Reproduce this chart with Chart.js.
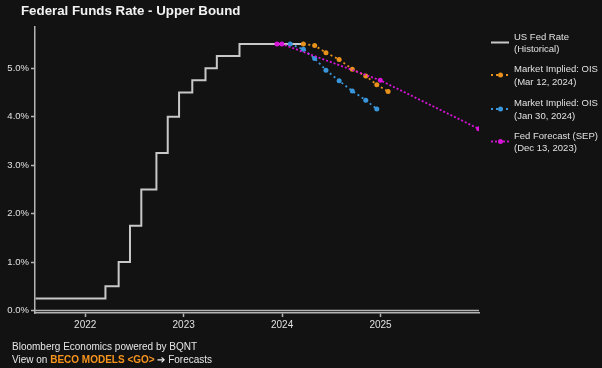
<!DOCTYPE html>
<html lang="en">
<head>
    <meta charset="UTF-8">
    <title>Federal Funds Rate - Upper Bound</title>
    <script src="https://cdn.jsdelivr.net/npm/chart.js"></script>
    <style>
        html, body { margin: 0; padding: 0; background: #121212; overflow: hidden; }
        #wrap { width: 602px; height: 368px; position: relative; }
    </style>
</head>
<body>
    <div id="wrap"><canvas id="grafico" width="602" height="368"></canvas></div>

    <script>
        // Historical upper bound (step changes at FOMC dates)
        const histDates = ['2021-07-01', '2022-03-17', '2022-05-05', '2022-06-16', '2022-07-28', '2022-09-22',
            '2022-11-03', '2022-12-15', '2023-02-02', '2023-03-23', '2023-05-04', '2023-07-27', '2024-03-12'];
        const histRates = [0.25, 0.50, 1.00, 1.75, 2.50, 3.25, 4.00, 4.50, 4.75, 5.00, 5.25, 5.50, 5.50];

        // Market implied OIS, Mar 12 2024
        const oisMarDates = ['2024-03-20', '2024-05-01', '2024-06-12', '2024-07-31', '2024-09-18', '2024-11-07', '2024-12-18', '2025-01-29'];
        const oisMarRates = [5.50, 5.47, 5.32, 5.18, 4.98, 4.84, 4.66, 4.52];

        // Market implied OIS, Jan 30 2024
        const oisJanDates = ['2024-01-31', '2024-03-20', '2024-05-01', '2024-06-12', '2024-07-31', '2024-09-18', '2024-11-07', '2024-12-18'];
        const oisJanRates = [5.50, 5.39, 5.20, 4.96, 4.74, 4.53, 4.34, 4.16];

        // Fed SEP forecast, Dec 13 2023
        const sepDates = ['2023-12-13', '2023-12-31', '2024-12-31', '2025-12-31'];
        const sepRates = [5.50, 5.50, 4.75, 3.75];

        const yearTicks = [2022, 2023, 2024, 2025];
        const rateTicks = [0, 1, 2, 3, 4, 5];

        const legendLabels = [
            ['US Fed Rate', '(Historical)'],
            ['Market Implied: OIS', '(Mar 12, 2024)'],
            ['Market Implied: OIS', '(Jan 30, 2024)'],
            ['Fed Forecast (SEP)', '(Dec 13, 2023)']
        ];

        const cinza = '#c8c8c8';
        const laranja = '#e8921c';
        const azul = '#3a96da';
        const magenta = '#d914d9';

        // date string -> decimal year
        function anoDecimal(s) {
            const d = new Date(s + 'T00:00:00Z');
            const y = d.getUTCFullYear();
            const ini = Date.UTC(y, 0, 1), fim = Date.UTC(y + 1, 0, 1);
            return y + (d - ini) / (fim - ini);
        }
        function pontos(datas, valores) {
            return datas.map((d, i) => ({ x: anoDecimal(d), y: valores[i] }));
        }

        // background, title, footer and legend drawn on the canvas
        const extras = {
            id: 'extras',
            beforeDraw(chart) {
                const c = chart.ctx;
                c.save();
                c.fillStyle = '#121212';
                c.fillRect(0, 0, chart.width, chart.height);
                c.restore();
            },
            afterDraw(chart) {
                const c = chart.ctx;
                c.save();
                c.textBaseline = 'middle';
                c.fillStyle = '#f2f2f2';
                c.font = 'bold 13.3px "Liberation Sans", Arial, sans-serif';
                c.fillText('Federal Funds Rate - Upper Bound', 21, 11);

                // zero line
                const y0 = chart.scales.y.getPixelForValue(0);
                c.strokeStyle = '#b4b4b4';
                c.lineWidth = 1.5;
                c.beginPath();
                c.moveTo(chart.chartArea.left, y0);
                c.lineTo(chart.chartArea.right, y0);
                c.stroke();

                // footer
                c.font = '10px "Liberation Sans", Arial, sans-serif';
                c.fillStyle = '#e6e6e6';
                c.fillText('Bloomberg Economics powered by BQNT', 12, 347.5);
                let x = 12;
                c.fillText('View on ', x, 360);
                x += c.measureText('View on ').width;
                c.font = 'bold 10px "Liberation Sans", Arial, sans-serif';
                c.fillStyle = '#f7941d';
                c.fillText('BECO MODELS <GO>', x, 360);
                x += c.measureText('BECO MODELS <GO>').width;
                c.font = '10px "Liberation Sans", Arial, sans-serif';
                c.fillStyle = '#e6e6e6';
                c.fillText(' \u2794 Forecasts', x, 360);

                // legend
                const ordem = [3, 2, 1, 0];
                const linhaY = [42.5, 75, 109, 141.5];
                c.font = '9.5px "Liberation Sans", Arial, sans-serif';
                ordem.forEach((di, k) => {
                    const ds = chart.data.datasets[di];
                    const ly = linhaY[k];
                    c.strokeStyle = ds.borderColor;
                    c.lineWidth = ds.borderWidth;
                    c.setLineDash(ds.borderDash || []);
                    c.beginPath();
                    c.moveTo(491, ly);
                    c.lineTo(509, ly);
                    c.stroke();
                    c.setLineDash([]);
                    if (ds.pointRadius > 0) {
                        c.fillStyle = ds.borderColor;
                        c.beginPath();
                        c.arc(500.5, ly, 2.5, 0, Math.PI * 2);
                        c.fill();
                    }
                    c.fillStyle = '#e0e0e0';
                    c.fillText(legendLabels[k][0], 514, ly - 5.5);
                    c.fillText(legendLabels[k][1], 514, ly + 7);
                });
                c.restore();
            }
        };

        const ctx = document.getElementById('grafico').getContext('2d');
        const grafico = new Chart(ctx, {
            type: 'line',
            data: {
                datasets: [
                    {
                        label: 'Fed Forecast (SEP)',
                        data: pontos(sepDates, sepRates),
                        borderColor: magenta,
                        backgroundColor: magenta,
                        borderWidth: 1.8,
                        borderDash: [2, 2],
                        pointRadius: 2.5,
                        pointBorderWidth: 0
                    },
                    {
                        label: 'Market Implied: OIS (Jan 30, 2024)',
                        data: pontos(oisJanDates, oisJanRates),
                        borderColor: azul,
                        backgroundColor: azul,
                        borderWidth: 1.8,
                        borderDash: [2, 3],
                        pointRadius: 2.5,
                        pointBorderWidth: 0
                    },
                    {
                        label: 'Market Implied: OIS (Mar 12, 2024)',
                        data: pontos(oisMarDates, oisMarRates),
                        borderColor: laranja,
                        backgroundColor: laranja,
                        borderWidth: 1.8,
                        borderDash: [2, 3],
                        pointRadius: 2.5,
                        pointBorderWidth: 0
                    },
                    {
                        label: 'US Fed Rate (Historical)',
                        data: pontos(histDates, histRates),
                        borderColor: cinza,
                        borderWidth: 2,
                        stepped: true,
                        pointRadius: 0
                    }
                ]
            },
            options: {
                responsive: false,
                animation: false,
                devicePixelRatio: 1,
                layout: { padding: { top: 27, right: 123, left: 0, bottom: 0 } },
                plugins: {
                    legend: { display: false },
                    tooltip: { enabled: false }
                },
                scales: {
                    x: {
                        type: 'linear',
                        min: 2021.49,
                        max: 2026.0,
                        afterFit: (s) => { s.height = 55; },
                        afterBuildTicks: (s) => { s.ticks = yearTicks.map(v => ({ value: v })); },
                        border: { display: true, color: '#b4b4b4', width: 1.5 },
                        grid: { drawOnChartArea: false, tickColor: '#b4b4b4', tickLength: 4, tickWidth: 1.5 },
                        ticks: {
                            color: '#e0e0e0',
                            padding: 2,
                            maxRotation: 0,
                            font: { family: '"Liberation Sans", Arial, sans-serif', size: 10 },
                            callback: (v) => String(v)
                        }
                    },
                    y: {
                        min: -0.05,
                        max: 5.85,
                        afterFit: (s) => { s.width = 35; },
                        afterBuildTicks: (s) => { s.ticks = rateTicks.map(v => ({ value: v })); },
                        border: { display: true, color: '#b4b4b4', width: 1.5 },
                        grid: { drawOnChartArea: false, tickColor: '#b4b4b4', tickLength: 4, tickWidth: 1.5 },
                        ticks: {
                            color: '#e0e0e0',
                            padding: 2,
                            font: { family: '"Liberation Sans", Arial, sans-serif', size: 9.5 },
                            callback: (v) => v.toFixed(1) + '%'
                        }
                    }
                }
            },
            plugins: [extras]
        });
    </script>
</body>
</html>
